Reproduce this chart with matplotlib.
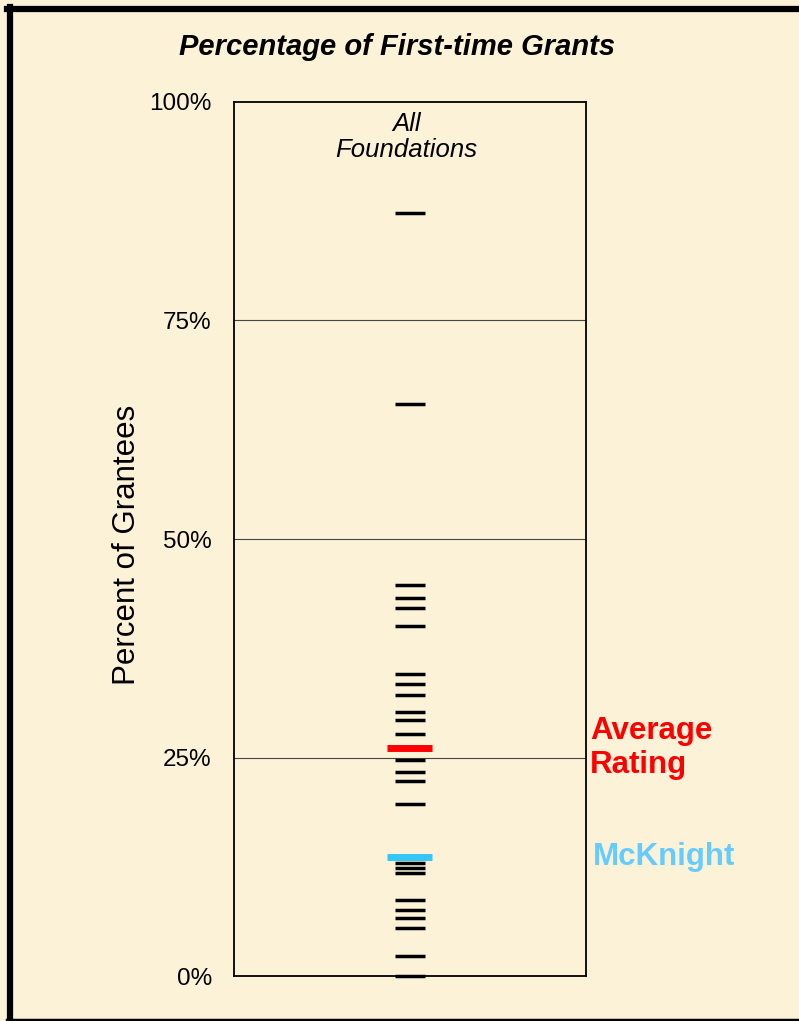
import matplotlib
matplotlib.use('Agg')
from matplotlib import pyplot as plt
from matplotlib.lines import Line2D
import matplotlib.transforms as mtransforms

# percent of first-time grants, one dash per foundation
foundations = [87.3, 65.5, 44.7, 43.3, 42.1, 40.1, 34.6, 33.4, 32.1, 30.2,
               29.3, 27.7, 24.7, 23.3, 22.3, 19.7, 13.5, 12.9, 12.3, 11.8,
               8.7, 7.5, 6.6, 5.5, 2.3, 0.0]
average = 26.1
mcknight = 13.6
yticks = [0, 25, 50, 75, 100]
yticklabels = ['0%', '25%', '50%', '75%', '100%']

bg = '#FCF2D8'
blue = '#33C6F7'


def main():
    plt.rcParams['font.family'] = ['Liberation Sans', 'DejaVu Sans']
    fig = plt.figure(figsize=(7.99, 10.21), dpi=100)
    fig.patch.set_facecolor(bg)

    # frame round the whole figure (left, top, bottom)
    fig.add_artist(Line2D([10 / 799, 10 / 799], [0, 1 - 7 / 1021], transform=fig.transFigure,
                          color='black', lw=4.5))
    fig.add_artist(Line2D([7 / 799, 1], [1 - 9.5 / 1021, 1 - 9.5 / 1021], transform=fig.transFigure,
                          color='black', lw=4.5))
    fig.add_artist(Line2D([7 / 799, 1], [1.5 / 1021, 1.5 / 1021], transform=fig.transFigure,
                          color='black', lw=2.5))

    ax = fig.add_axes([234 / 799, 1 - 976 / 1021, 352 / 799, 874 / 1021])
    ax.set_facecolor(bg)
    ax.set_xlim(0, 1)
    ax.set_ylim(0, 100)
    ax.set_xticks([])
    ax.set_yticks(yticks)
    ax.set_yticklabels(yticklabels, fontsize=17.5)
    ax.tick_params(axis='y', length=0, pad=16)
    for s in ax.spines.values():
        s.set_linewidth(1.3)
        s.set_color('black')
    for g in [25, 50, 75]:
        ax.axhline(g, color='#444444', lw=0.8, zorder=1)

    ax.hlines(foundations, 0.457, 0.543, color='black', lw=2.5, zorder=4, clip_on=False)
    ax.hlines([average], 0.434, 0.563, color='#FF0000', lw=5, zorder=5)
    ax.hlines([mcknight], 0.434, 0.563, color=blue, lw=5, zorder=5)

    trans = mtransforms.blended_transform_factory(ax.transAxes, ax.transData)
    ax.text(1.011, average, 'Average\nRating', transform=trans, color='#FF0000',
            fontsize=22.5, fontweight='bold', va='center', ha='left', linespacing=1.2)
    ax.text(1.02, mcknight, 'McKnight', transform=trans, color='#66CCFF',
            fontsize=22.5, fontweight='bold', va='center', ha='left')
    ax.text(0.49, 0.989, 'All\nFoundations', transform=ax.transAxes, fontsize=18.5,
            style='italic', ha='center', va='top', linespacing=1.15)

    fig.text(0.4975, 0.954, 'Percentage of First-time Grants', fontsize=21,
             fontweight='bold', style='italic', ha='center', va='center')
    fig.text(0.159, 0.466, 'Percent of Grantees', fontsize=22.5, rotation=90,
             ha='center', va='center')

    fig.savefig('out.png', dpi=100, facecolor=bg)


if __name__ == "__main__":
    main()
